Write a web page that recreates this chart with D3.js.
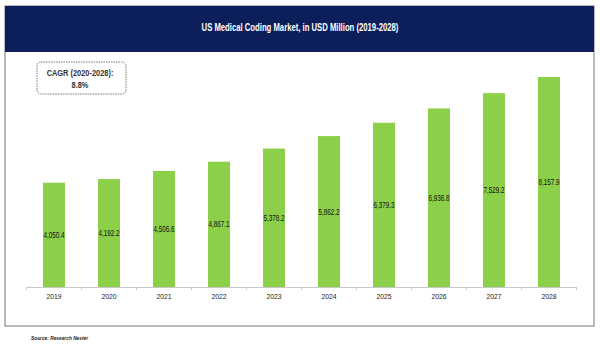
<!DOCTYPE html>
<html>
<head>
<meta charset="utf-8">
<script src="https://cdn.jsdelivr.net/npm/d3@7"></script>
<style>
  body { margin: 0; background: #fff; }
  text { font-family: "Liberation Sans", Arial, sans-serif; }
</style>
</head>
<body>
<script>
// data
var years = ["2019", "2020", "2021", "2022", "2023", "2024", "2025", "2026", "2027", "2028"];
var values = [4050.4, 4192.2, 4506.6, 4867.1, 5378.2, 5862.2, 6379.3, 6936.8, 7529.2, 8157.9];
var labels = ["4,050.4", "4,192.2", "4,506.6", "4,867.1", "5,378.2", "5,862.2", "6,379.3", "6,936.8", "7,529.2", "8,157.9"];
var title = "US Medical Coding Market, in USD Million (2019-2028)";
var cagrLines = ["CAGR (2020-2028):", "8.8%"];
var source = "Source: Research Nester";

var W = 600, H = 352;

//squeeze text horizontally, the original uses a condensed face
function squeeze(sel, k) {
    sel.each(function() {
        var len = this.getComputedTextLength();
        d3.select(this)
            .attr("textLength", len * k)
            .attr("lengthAdjust", "spacingAndGlyphs");
    });
}

var svg = d3.select("body").append("svg")
    .attr("width", W)
    .attr("height", H);

//panel border
svg.append("rect")
    .attr("x", 5).attr("y", 6)
    .attr("width", 589).attr("height", 320)
    .attr("fill", "#fff")
    .attr("stroke", "#8a8a8a")
    .attr("stroke-width", 1.2);

//header band
svg.append("rect")
    .attr("x", 5).attr("y", 6)
    .attr("width", 589).attr("height", 46)
    .attr("fill", "#0c1f5b");

svg.append("text")
    .attr("x", 300).attr("y", 31)
    .attr("text-anchor", "middle")
    .attr("fill", "#fff")
    .attr("font-size", 10)
    .attr("font-weight", "bold")
    .text(title)
    .call(squeeze, 0.77);

//scales
var x = d3.scaleBand()
    .domain(years)
    .range([26.5, 576.5])
    .paddingInner(0.6)
    .paddingOuter(0.3);

var y = d3.scaleLinear()
    .domain([0, 9000])
    .range([287, 55.3]);

var plot = svg.append("g");

//bars
plot.selectAll("rect.bar")
    .data(values)
    .enter()
    .append("rect")
    .attr("class", "bar")
    .attr("x", function(d, i) { return x(years[i]); })
    .attr("y", function(d) { return y(d); })
    .attr("width", x.bandwidth())
    .attr("height", function(d) { return y(0) - y(d); })
    .attr("fill", "#8ccf48");

//value labels
plot.selectAll("text.val")
    .data(values)
    .enter()
    .append("text")
    .attr("class", "val")
    .attr("x", function(d, i) { return x(years[i]) + x.bandwidth() / 2; })
    .attr("y", function(d) { return (y(d) + y(0)) / 2; })
    .attr("dy", "0.35em")
    .attr("text-anchor", "middle")
    .attr("font-size", 8.5)
    .attr("fill", "#111")
    .text(function(d, i) { return labels[i]; })
    .call(squeeze, 0.74);

//x axis
var xAxis = d3.axisBottom(x).tickSize(0).tickPadding(6);
var axisG = plot.append("g")
    .attr("transform", "translate(0," + y(0) + ")")
    .call(xAxis);
axisG.select(".domain").attr("stroke", "#c8c8c8");
axisG.selectAll(".tick text")
    .attr("font-size", 8)
    .attr("fill", "#222")
    .style("font-family", "'Liberation Sans', Arial, sans-serif")
    .call(squeeze, 0.85);

//separator ticks between categories
var step = x.step();
var seps = years.map(function(d) { return x(d) + x.bandwidth() / 2 - step / 2; });
seps.push(x(years[years.length - 1]) + x.bandwidth() / 2 + step / 2);
axisG.selectAll("line.sep")
    .data(seps)
    .enter()
    .append("line")
    .attr("class", "sep")
    .attr("x1", function(d) { return d; })
    .attr("x2", function(d) { return d; })
    .attr("y1", 0).attr("y2", 3)
    .attr("stroke", "#c8c8c8");

//CAGR box
svg.append("rect")
    .attr("x", 37).attr("y", 62)
    .attr("width", 89).attr("height", 32)
    .attr("rx", 4)
    .attr("fill", "#fff")
    .attr("stroke", "#777")
    .attr("stroke-dasharray", "1.5,1")
    .attr("stroke-width", 1);

svg.selectAll("text.cagr")
    .data(cagrLines)
    .enter()
    .append("text")
    .attr("class", "cagr")
    .attr("x", 80)
    .attr("y", function(d, i) { return 76 + i * 12; })
    .attr("text-anchor", "middle")
    .attr("font-size", 9.5)
    .attr("font-weight", "bold")
    .attr("fill", "#333")
    .text(function(d) { return d; })
    .call(squeeze, 0.78);

//source note
svg.append("text")
    .attr("x", 31).attr("y", 340)
    .attr("font-size", 6)
    .attr("font-style", "italic")
    .attr("font-weight", "bold")
    .attr("fill", "#222")
    .text(source)
    .call(squeeze, 0.8);
</script>
</body>
</html>
